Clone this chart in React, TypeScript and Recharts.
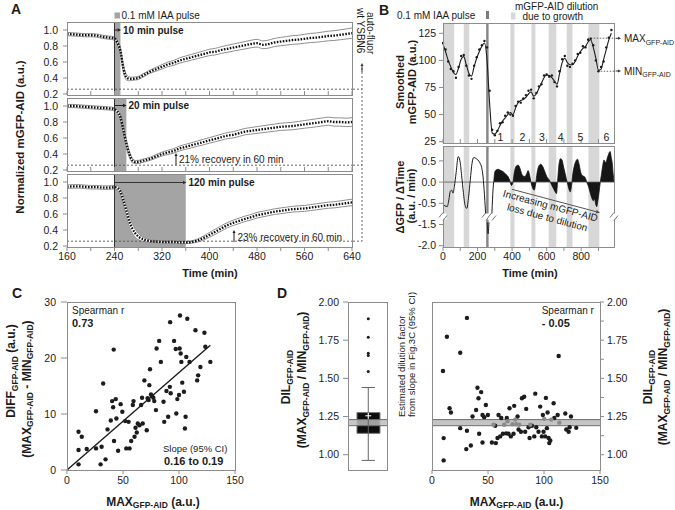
import React from "react";
import {
  ComposedChart,
  Line,
  Area,
  Scatter,
  XAxis,
  YAxis,
  ReferenceArea,
  ReferenceLine,
} from "recharts";

const FONT = "'Liberation Sans', Arial, Helvetica, sans-serif";
const INK = "#1c1c1c";
const FRAME = "#8c8c8c";
const PULSE = "#a4a4a4";
const BAND = "#d7d7d7";
const PAD = 14;

// ---------- Panel A: normalized mGFP-AID after IAA pulses ----------
const aTime = [160, 170, 180, 190, 200, 210, 220, 230, 240, 245, 250, 255, 260, 265, 270, 275, 280, 285, 290, 295, 300, 310, 320, 330, 340, 350, 360, 370, 380, 390, 400, 410, 420, 430, 440, 450, 460, 470, 480, 490, 500, 510, 520, 530, 540, 550, 560, 570, 580, 590, 600, 610, 620, 630, 640];

const pulse10Mean = [0.95, 0.945, 0.94, 0.935, 0.935, 0.93, 0.915, 0.905, 0.895,
  0.84, 0.74, 0.52, 0.41, 0.39, 0.39, 0.395, 0.40, 0.42, 0.44, 0.46, 0.48,
  0.51, 0.54, 0.57, 0.59, 0.62, 0.64, 0.66, 0.68, 0.70, 0.72, 0.73, 0.75, 0.765, 0.78, 0.795, 0.81, 0.825, 0.835, 0.815, 0.825, 0.845, 0.855, 0.865, 0.875, 0.88, 0.89, 0.90, 0.905, 0.915, 0.925, 0.93, 0.94, 0.95, 0.96];
const pulse10Spread = [0.02, 0.02, 0.02, 0.02, 0.02, 0.02, 0.02, 0.02, 0.02,
  0.025, 0.04, 0.05, 0.035, 0.025, 0.02, 0.02, 0.02, 0.02, 0.02, 0.02, 0.02,
  0.025, 0.027, 0.029, 0.031, 0.033, 0.035, 0.036, 0.037, 0.038, 0.04, 0.041, 0.042, 0.043, 0.044, 0.045, 0.046, 0.047, 0.048, 0.049, 0.05, 0.051, 0.052, 0.053, 0.054, 0.055, 0.056, 0.057, 0.058, 0.059, 0.06, 0.061, 0.062, 0.063, 0.065];

const pulse20Mean = [1.0, 1.0, 0.995, 0.99, 0.985, 0.98, 0.975, 0.97, 0.96,
  0.93, 0.86, 0.70, 0.53, 0.40, 0.32, 0.30, 0.30, 0.31, 0.32, 0.33, 0.34,
  0.37, 0.40, 0.42, 0.44, 0.47, 0.49, 0.51, 0.53, 0.55, 0.57, 0.59, 0.61, 0.63, 0.64, 0.66, 0.68, 0.69, 0.70, 0.71, 0.72, 0.73, 0.74, 0.745, 0.75, 0.76, 0.77, 0.78, 0.79, 0.80, 0.81, 0.80, 0.80, 0.795, 0.80];
const pulse20Spread = [0.02, 0.02, 0.02, 0.02, 0.02, 0.02, 0.02, 0.02, 0.02,
  0.025, 0.035, 0.05, 0.05, 0.04, 0.03, 0.02, 0.02, 0.02, 0.02, 0.02, 0.02,
  0.022, 0.024, 0.026, 0.028, 0.03, 0.031, 0.032, 0.033, 0.034, 0.035, 0.036, 0.037, 0.038, 0.039, 0.04, 0.04, 0.041, 0.042, 0.043, 0.044, 0.045, 0.045, 0.046, 0.047, 0.047, 0.048, 0.049, 0.05, 0.05, 0.051, 0.052, 0.052, 0.053, 0.054];

const pulse120Mean = [0.94, 0.945, 0.945, 0.94, 0.935, 0.935, 0.93, 0.93, 0.935,
  0.925, 0.88, 0.77, 0.64, 0.51, 0.42, 0.36, 0.32, 0.295, 0.28, 0.27, 0.26,
  0.255, 0.25, 0.25, 0.25, 0.245, 0.245, 0.25, 0.27, 0.30, 0.34, 0.38, 0.42, 0.46, 0.49, 0.515, 0.54, 0.56, 0.585, 0.60, 0.615, 0.63, 0.64, 0.65, 0.66, 0.665, 0.67, 0.68, 0.69, 0.70, 0.71, 0.715, 0.725, 0.735, 0.745];
const pulse120Spread = [0.022, 0.022, 0.022, 0.022, 0.022, 0.022, 0.022, 0.022, 0.022,
  0.025, 0.04, 0.06, 0.07, 0.07, 0.06, 0.05, 0.04, 0.03, 0.025, 0.02, 0.018,
  0.015, 0.015, 0.015, 0.015, 0.015, 0.015, 0.015, 0.02, 0.025, 0.03, 0.032, 0.033, 0.033, 0.033, 0.034, 0.034, 0.034, 0.035, 0.035, 0.035, 0.035, 0.036, 0.036, 0.036, 0.037, 0.037, 0.037, 0.038, 0.038, 0.038, 0.039, 0.039, 0.04, 0.04];

const pulseStart = 240;
const pulseEnds = [250, 260, 360];
const autoFluor = 0.26;
const aYTicks = [0.2, 0.4, 0.6, 0.8, 1.0];
const aXTicks = [160, 200, 240, 280, 320, 360, 400, 440, 480, 520, 560, 600, 640];

// ---------- Panel B: smoothed trace and its derivative ----------
const bTime = [0, 15, 30, 45, 60, 75, 90, 105, 120, 135, 150, 165, 180, 195, 210, 225, 240, 255, 270, 285, 300, 315, 330, 345, 360, 375, 390, 405, 420, 435, 450, 465, 480, 495, 510, 525, 540, 555, 570, 585, 600, 615, 630, 645, 660, 675, 690, 705, 720, 735, 750, 765, 780, 795, 810, 825, 840, 855, 870, 885, 900, 915, 930, 945, 960, 975];
const bSmooth = [115, 108, 100, 94, 89, 87, 93, 101, 103.5, 96, 88, 85.5, 94, 102, 108, 113, 116, 100, 60, 33, 32, 35, 40, 44, 47, 50, 52, 50, 56, 61, 63, 64, 66, 69, 71, 67, 69, 74, 79, 84, 86.5, 86, 84, 81, 78, 88, 98, 102, 98, 96, 96, 99, 104, 108, 111, 113, 117, 119, 112, 102, 91, 92, 101, 110, 119, 125];
const bRaw = [116, 110, 99, 92, 90, 84, 94, 104, 105, 95, 86, 83, 95, 103, 110, 114, 118, 112, 72, 36, 31, 35, 42, 43, 49, 52, 50, 49, 58, 62, 61, 65, 68, 72, 73, 65, 70, 76, 78, 86, 87, 85, 86, 80, 76, 90, 101, 104, 95, 94, 97, 100, 106, 107, 113, 112, 119, 120, 114, 100, 90, 94, 99, 112, 121, 128];

const growthBands = [[0, 65], [120, 152], [390, 414], [512, 535], [612, 656], [716, 750], [842, 905]];
const iaaPulseB = [250, 264];
const cycleLabels = ["1", "2", "3", "4", "5", "6"];
const cycleTimes = [332, 460, 572, 681, 795, 946];
const maxLevel = 120.5;
const minLevel = 90;

const derivEarlyT = [0, 12, 24, 34, 42, 50, 58, 66, 76, 88, 98, 108, 118, 128, 138, 148, 158, 168, 178, 190, 202, 214, 224, 232, 240, 248, 252, 256, 261, 266, 274, 282, 288, 293];
const derivEarlyV = [-0.54, -0.56, -0.58, -0.42, -0.22, -0.19, -0.26, -0.1, 0.22, 0.6, 0.5, 0.15, -0.25, -0.55, -0.62, -0.35, 0.05, 0.44, 0.58, 0.56, 0.52, 0.45, 0.34, 0.12, -0.3, -0.85, null, -1.45, -1.72, -1.45, null, -0.85, -0.3, 0.0];
const derivLateT = [294, 300, 310, 320, 335, 350, 365, 378, 388, 396, 404, 414, 425, 435, 445, 455, 465, 475, 485, 493, 502, 512, 520, 528, 536, 545, 555, 566, 578, 590, 602, 615, 627, 638, 648, 657, 664, 671, 680, 688, 697, 706, 714, 722, 730, 737, 745, 752, 760, 768, 778, 788, 798, 808, 818, 826, 834, 842, 850, 860, 870, 878, 884, 890, 896, 903, 910, 918, 926, 932, 938, 944, 950, 957, 963, 968, 974, 980, 985, 990];
const derivLateV = [0.0, 0.24, 0.29, 0.3, 0.27, 0.24, 0.18, 0.12, 0.02, -0.08, -0.02, 0.25, 0.38, 0.4, 0.33, 0.2, 0.14, 0.13, 0.2, 0.27, 0.15, -0.05, -0.15, -0.19, -0.05, 0.22, 0.38, 0.42, 0.36, 0.24, 0.12, 0.05, -0.05, -0.14, -0.22, -0.27, 0.05, 0.4, 0.55, 0.53, 0.38, 0.22, 0.08, -0.05, -0.18, -0.23, -0.05, 0.2, 0.38, 0.48, 0.54, 0.42, 0.22, 0.15, 0.13, 0.08, -0.02, -0.1, -0.22, -0.36, -0.44, -0.4, -0.52, -0.58, -0.45, -0.25, -0.02, 0.2, 0.42, 0.52, 0.48, 0.46, 0.55, 0.64, 0.7, 0.72, 0.58, 0.44, 0.2, 0.02];
const derivTicks = [0.5, 0, -0.5, -1, -1.5];
const bXTicks = [0, 100, 200, 300, 400, 500, 600, 700, 800, 900];

// ---------- Panel C: DIFF vs MAX ----------
const cMax = [10.3, 13.2, 10.3, 10.3, 17.6, 25.9, 25.9, 30.9, 30.0, 34.4, 32.3, 36.2, 39.1, 40.3, 41.2, 42.0, 43.5, 41.7, 44.1, 45.6, 47.9, 49.4, 52.0, 52.9, 55.0, 55.9, 57.3, 58.8, 59.4, 60.3, 61.2, 62.3, 63.2, 64.7, 66.2, 67.0, 67.6, 69.1, 71.2, 72.0, 72.9, 73.5, 74.1, 75.0, 75.9, 77.1, 77.9, 79.4, 80.0, 82.3, 83.8, 86.2, 86.8, 88.8, 90.3, 91.8, 92.1, 92.6, 95.6, 97.1, 97.6, 98.5, 100.0, 100.6, 100.9, 101.5, 102.1, 102.9, 104.4, 105.3, 105.9, 107.4, 106.5, 109.4, 114.7, 116.2, 117.1, 119.1, 122.7, 123.5, 128.0];
const cDiff = [6.83, 5.94, 3.57, 1.01, 3.74, 3.86, 10.5, 4.16, 1.01, 1.9, 15.45, 7.25, 8.85, 12.3, 11.2, 5.17, 12.66, 21.5, 9.2, 3.45, 11.76, 10.4, 8.73, 3.86, 8.6, 3.86, 5.17, 11.6, 12.3, 5.94, 7.55, 6.7, 8.3, 8.0, 11.6, 12.9, 8.3, 16.0, 7.1, 12.8, 12.5, 15.15, 18.0, 13.5, 13.2, 12.9, 12.3, 10.7, 21.7, 23.05, 19.3, 12.2, 8.6, 14.1, 9.5, 14.85, 26.4, 13.7, 23.05, 21.6, 10.1, 12.66, 13.4, 21.7, 27.6, 20.8, 19.3, 15.6, 13.96, 7.4, 9.5, 27.0, 20.2, 19.3, 24.95, 16.0, 16.9, 18.4, 24.5, 22.0, 19.3];
const fitSlope = 0.174;
const fitRange = [0, 128];

// ---------- Panel D: DIL vs MAX ----------
const dMax = [9.8, 10.4, 10.4, 13.3, 15.7, 16.9, 25.2, 25.2, 31.2, 31.2, 30.6, 34.7, 36.2, 39.4, 40.6, 41.5, 42.1, 43.9, 45.1, 45.1, 46.6, 48.1, 49.9, 53.5, 54.9, 56.4, 57.0, 58.5, 59.4, 60.9, 61.8, 63.3, 64.5, 66.2, 66.8, 67.4, 68.3, 69.2, 70.4, 71.9, 72.8, 73.4, 74.3, 75.2, 76.4, 77.3, 77.9, 79.4, 80.3, 82.3, 83.2, 84.1, 86.2, 87.1, 87.7, 89.2, 91.3, 92.2, 93.1, 95.1, 96.6, 98.1, 99.0, 99.6, 100.2, 101.1, 101.7, 102.6, 103.2, 104.1, 104.7, 105.6, 106.5, 108.6, 109.2, 112.2, 113.1, 113.7, 119.0, 119.9, 122.0, 122.9, 124.1, 128.8];
const dDil = [1.548, 1.109, 0.963, 1.772, 1.304, 1.276, 1.668, 1.174, 1.896, 1.157, 1.037, 1.06, 1.25, 1.293, 1.439, 1.37, 1.137, 1.41, 1.26, 1.08, 1.246, 1.326, 1.26, 1.08, 1.196, 1.19, 1.076, 1.11, 1.26, 1.12, 1.24, 1.137, 1.196, 1.14, 1.24, 1.22, 1.137, 1.304, 1.12, 1.2, 1.137, 1.32, 1.23, 1.2, 1.25, 1.165, 1.196, 1.15, 1.37, 1.38, 1.15, 1.3, 1.18, 1.11, 1.196, 1.19, 1.12, 1.4, 1.18, 1.15, 1.315, 1.12, 1.26, 1.15, 1.235, 1.12, 1.372, 1.174, 1.276, 1.11, 1.076, 1.093, 1.23, 1.337, 1.24, 1.26, 1.646, 1.21, 1.27, 1.165, 1.15, 1.18, 1.25, 1.176];
const boxWhiskers = [0.963, 1.44];
const boxQuartiles = [1.14, 1.276];
const boxMean = 1.255;
const boxOutliers = [1.545, 1.65, 1.665, 1.77, 1.89];
const dilBand = [1.19, 1.23];
const dilTicks = [1.0, 1.25, 1.5, 1.75, 2.0];
const dilMinor = [1.0, 1.125, 1.25, 1.375, 1.5, 1.625, 1.75, 1.875, 2.0];

type Box = { x0: number; y0: number; x1: number; y1: number };

function dims(b: Box, left = 0, right = 0, bottom = 0) {
  return {
    style: { position: "absolute" as const, left: b.x0 - PAD - left, top: b.y0 - PAD },
    width: b.x1 - b.x0 + 2 * PAD + left + right,
    height: b.y1 - b.y0 + 2 * PAD + bottom,
    margin: { top: PAD, right: PAD, bottom: PAD, left: PAD },
  };
}

function Frame({ b }: { b: Box }) {
  return (
    <div
      style={{
        position: "absolute",
        left: b.x0,
        top: b.y0,
        width: b.x1 - b.x0 + 1,
        height: b.y1 - b.y0 + 1,
        border: `1px solid ${FRAME}`,
        boxSizing: "border-box",
        pointerEvents: "none",
      }}
    />
  );
}

const tickFont = { fontSize: 10.5, fill: INK, fontFamily: FONT };
const blank = () => "";

const aBoxes: Box[] = [
  { x0: 67, y0: 22, x1: 352, y1: 95 },
  { x0: 67, y0: 98, x1: 352, y1: 171 },
  { x0: 67, y0: 174, x1: 352, y1: 247 },
];

function PulseTrace({ box, mean, spread, pulseEnd, last }: { box: Box; mean: number[]; spread: number[]; pulseEnd: number; last: boolean }) {
  const data = aTime.map((t, i) => ({ t, m: mean[i], env: [mean[i] - spread[i], mean[i] + spread[i]] }));
  const xh = last ? 26 : 1;
  const d = dims(box, 44, 0, xh);
  return (
    <div style={d.style}>
      <ComposedChart width={d.width} height={d.height} margin={d.margin} data={data}>
        <XAxis
          dataKey="t"
          type="number"
          domain={[160, 640]}
          ticks={aXTicks}
          height={xh}
          axisLine={false}
          tickLine={{ stroke: FRAME }}
          tickSize={last ? 4 : -4}
          tickMargin={2}
          tick={tickFont}
          tickFormatter={last ? (v: number) => (v % 80 === 0 ? String(v) : "") : blank}
          interval={0}
        />
        <YAxis
          type="number"
          domain={[0.1875, 1.1]}
          ticks={aYTicks}
          interval={0}
          width={44}
          axisLine={false}
          tickLine={{ stroke: FRAME }}
          tickSize={4}
          tickMargin={5}
          tick={tickFont}
          tickFormatter={(v: number) => v.toFixed(1)}
          allowDataOverflow
        />
        <ReferenceArea x1={pulseStart} x2={pulseEnd} fill={PULSE} fillOpacity={1} stroke="none" />
        <ReferenceLine y={autoFluor} stroke="#555" strokeDasharray="2 2" strokeWidth={0.9} />
        <Area
          dataKey="env"
          type="monotone"
          stroke="#8f8f8f"
          strokeWidth={1}
          fill="#ffffff"
          fillOpacity={1}
          isAnimationActive={false}
        />
        <Line
          dataKey="m"
          type="monotone"
          stroke="#111"
          strokeWidth={2.3}
          strokeDasharray="1.6 1.4"
          dot={false}
          isAnimationActive={false}
        />
        <ReferenceLine x={pulseStart} stroke="#333" strokeWidth={1} />
      </ComposedChart>
    </div>
  );
}

function PanelA() {
  const means = [pulse10Mean, pulse20Mean, pulse120Mean];
  const spreads = [pulse10Spread, pulse20Spread, pulse120Spread];
  return (
    <>
      {aBoxes.map((b, i) => (
        <PulseTrace key={i} box={b} mean={means[i]} spread={spreads[i]} pulseEnd={pulseEnds[i]} last={i === 2} />
      ))}
      {aBoxes.map((b, i) => (
        <Frame key={"f" + i} b={b} />
      ))}
    </>
  );
}

const bTopBox: Box = { x0: 443, y0: 23, x1: 614, y1: 143 };
const bBotBox: Box = { x0: 443, y0: 146, x1: 614, y1: 247 };

const brk = (v: number | null) => (v == null ? null : v < -1 ? v + 0.5 : v);

function PanelB() {
  const topData = bTime.map((t, i) => ({ t, smooth: bSmooth[i], raw: bRaw[i] }));
  const derivData = [
    ...derivEarlyT.map((t, i) => ({ t, line: brk(derivEarlyV[i]) })),
    ...derivLateT.map((t, i) => ({ t, fill: brk(derivLateV[i]) })),
  ].sort((a, b) => a.t - b.t);
  const dt = dims(bTopBox, 32, 0, 1);
  const db = dims(bBotBox, 32, 0, 26);
  const bandEls = (prefix: string) => [
    ...growthBands.map(([a, b], i) => (
      <ReferenceArea key={prefix + i} x1={a} x2={b} fill={BAND} fillOpacity={1} stroke="none" />
    )),
    <ReferenceArea key={prefix + "p"} x1={iaaPulseB[0]} x2={iaaPulseB[1]} fill="#858585" fillOpacity={1} stroke="none" />,
  ];
  return (
    <>
      <div style={dt.style}>
        <ComposedChart width={dt.width} height={dt.height} margin={dt.margin} data={topData}>
          <XAxis
            dataKey="t"
            type="number"
            domain={[0, 990]}
            ticks={bXTicks}
            height={1}
            axisLine={false}
            tickLine={{ stroke: FRAME }}
            tickSize={-4}
            tickFormatter={blank}
            interval={0}
          />
          <YAxis
            type="number"
            domain={[23.8, 134.5]}
            ticks={[25, 50, 75, 100, 125]}
            interval={0}
            width={32}
            axisLine={false}
            tickLine={{ stroke: FRAME }}
            tickSize={4}
            tickMargin={3}
            tick={tickFont}
            allowDataOverflow
          />
          {bandEls("t")}
          <ReferenceLine segment={[{ x: 838, y: maxLevel }, { x: 990, y: maxLevel }]} stroke="#666" strokeDasharray="1.5 1.5" />
          <ReferenceLine segment={[{ x: 913, y: minLevel }, { x: 990, y: minLevel }]} stroke="#666" strokeDasharray="1.5 1.5" />
          <Line dataKey="smooth" type="monotone" stroke={INK} strokeWidth={1.1} dot={false} isAnimationActive={false} />
          <Line
            dataKey="raw"
            stroke="none"
            dot={{ r: 1.2, fill: INK, stroke: "none" }}
            isAnimationActive={false}
          />
        </ComposedChart>
      </div>
      <div style={db.style}>
        <ComposedChart width={db.width} height={db.height} margin={db.margin} data={derivData}>
          <XAxis
            dataKey="t"
            type="number"
            domain={[0, 990]}
            ticks={bXTicks}
            height={26}
            axisLine={false}
            tickLine={{ stroke: FRAME }}
            tickSize={4}
            tickMargin={2}
            tick={tickFont}
            tickFormatter={(v: number) => (v % 200 === 0 ? String(v) : "")}
            interval={0}
          />
          <YAxis
            type="number"
            domain={[-1.53, 0.85]}
            ticks={derivTicks}
            interval={0}
            width={32}
            axisLine={false}
            tickLine={{ stroke: FRAME }}
            tickSize={4}
            tickMargin={3}
            tick={tickFont}
            tickFormatter={(v: number) => (v === -1 ? "-1.5" : v === -1.5 ? "-2.0" : v.toFixed(1))}
            allowDataOverflow
          />
          {bandEls("b")}
          <ReferenceLine y={0} stroke="#555" strokeWidth={0.8} />
          <Area
            dataKey="fill"
            type="monotone"
            baseValue={0}
            stroke="#161616"
            strokeWidth={0.8}
            fill="#161616"
            fillOpacity={1}
            isAnimationActive={false}
          />
          <Line dataKey="line" type="monotone" stroke={INK} strokeWidth={1} dot={false} isAnimationActive={false} />
        </ComposedChart>
      </div>
      <Frame b={bTopBox} />
      <Frame b={bBotBox} />
    </>
  );
}

const cBox: Box = { x0: 67, y0: 302, x1: 235, y1: 470 };

const dot = (r: number, fill: string) => (p: any) => <circle cx={p.cx} cy={p.cy} r={r} fill={fill} />;

function PanelC() {
  const pts = cMax.map((x, i) => ({ x, y: cDiff[i] }));
  const d = dims(cBox, 34, 0, 28);
  return (
    <>
      <div style={d.style}>
        <ComposedChart width={d.width} height={d.height} margin={d.margin}>
          <XAxis
            dataKey="x"
            type="number"
            domain={[0, 150]}
            ticks={[0, 50, 100, 150]}
            interval={0}
            height={28}
            axisLine={false}
            tickLine={{ stroke: FRAME }}
            tickSize={4}
            tickMargin={3}
            tick={tickFont}
          />
          <YAxis
            dataKey="y"
            type="number"
            domain={[0, 30]}
            ticks={[0, 10, 20, 30]}
            interval={0}
            width={34}
            axisLine={false}
            tickLine={{ stroke: FRAME }}
            tickSize={6}
            tickMargin={5}
            tick={tickFont}
          />
          <Scatter data={pts} shape={dot(2.2, INK)} isAnimationActive={false} />
          <ReferenceLine
            segment={[{ x: fitRange[0], y: fitSlope * fitRange[0] }, { x: fitRange[1], y: fitSlope * fitRange[1] }]}
            stroke={INK}
            strokeWidth={1.4}
          />
        </ComposedChart>
      </div>
      <Frame b={cBox} />
    </>
  );
}

const dLeftBox: Box = { x0: 348, y0: 302, x1: 387, y1: 470 };
const dMidBox: Box = { x0: 388, y0: 302, x1: 427, y1: 470 };
const dRightBox: Box = { x0: 432, y0: 302, x1: 600, y1: 470 };

const plus = (p: any) => (
  <g stroke="#fff" strokeWidth={1}>
    <line x1={p.cx - 3} x2={p.cx + 3} y1={p.cy} y2={p.cy} />
    <line x1={p.cx} x2={p.cx} y1={p.cy - 3} y2={p.cy + 3} />
  </g>
);

function PanelD() {
  const dl = dims(dLeftBox, 46, 0, 0);
  const dm = dims(dMidBox, 0, 0, 0);
  const dr = dims(dRightBox, 0, 44, 28);
  const inBand = (v: number) => v >= 1.192 && v <= 1.236;
  const dark = dMax.map((x, i) => ({ x, y: dDil[i] })).filter((p) => !inBand(p.y));
  const light = dMax.map((x, i) => ({ x, y: dDil[i] })).filter((p) => inBand(p.y));
  const cx = 0.52;
  return (
    <>
      <div style={dl.style}>
        <ComposedChart width={dl.width} height={dl.height} margin={dl.margin}>
          <XAxis dataKey="x" type="number" domain={[0, 1]} hide />
          <YAxis
            dataKey="y"
            type="number"
            domain={[0.9, 2.0]}
            ticks={dilTicks}
            interval={0}
            width={46}
            axisLine={false}
            tickLine={{ stroke: FRAME }}
            tickSize={5}
            tickMargin={4}
            tick={tickFont}
            tickFormatter={(v: number) => v.toFixed(2)}
          />
          <ReferenceLine segment={[{ x: cx, y: boxWhiskers[0] }, { x: cx, y: boxWhiskers[1] }]} stroke="#666" />
          <ReferenceLine segment={[{ x: 0.35, y: boxWhiskers[0] }, { x: 0.69, y: boxWhiskers[0] }]} stroke="#666" />
          <ReferenceLine segment={[{ x: 0.35, y: boxWhiskers[1] }, { x: 0.69, y: boxWhiskers[1] }]} stroke="#666" />
          <ReferenceArea x1={0.23} x2={0.82} y1={boxQuartiles[0]} y2={boxQuartiles[1]} fill="#0d0d0d" fillOpacity={1} stroke="#777" />
          <ReferenceArea y1={dilBand[0]} y2={dilBand[1]} fill="#bdbdbd" fillOpacity={0.85} stroke="none" />
          <ReferenceLine y={dilBand[0]} stroke="#6e6e6e" />
          <ReferenceLine y={dilBand[1]} stroke="#6e6e6e" />
          <Scatter data={boxOutliers.map((y) => ({ x: cx, y }))} shape={dot(1.5, INK)} isAnimationActive={false} />
          <Scatter data={[{ x: cx, y: boxMean }]} shape={plus} isAnimationActive={false} />
        </ComposedChart>
      </div>
      <div style={dm.style}>
        <ComposedChart width={dm.width} height={dm.height} margin={dm.margin}>
          <XAxis dataKey="x" type="number" domain={[0, 1]} hide />
          <YAxis dataKey="y" type="number" domain={[0.9, 2.0]} hide />
          <ReferenceArea x1={0} x2={1} y1={dilBand[0]} y2={dilBand[1]} fill="#c4c4c4" fillOpacity={1} stroke="none" />
          <ReferenceLine y={dilBand[0]} stroke="#6e6e6e" />
          <ReferenceLine y={dilBand[1]} stroke="#6e6e6e" />
          <Scatter data={[]} isAnimationActive={false} />
        </ComposedChart>
      </div>
      <div style={dr.style}>
        <ComposedChart width={dr.width} height={dr.height} margin={dr.margin}>
          <XAxis
            dataKey="x"
            type="number"
            domain={[0, 150]}
            ticks={[0, 50, 100, 150]}
            interval={0}
            height={28}
            axisLine={false}
            tickLine={{ stroke: FRAME }}
            tickSize={4}
            tickMargin={3}
            tick={tickFont}
          />
          <YAxis
            dataKey="y"
            type="number"
            orientation="right"
            domain={[0.9, 2.0]}
            ticks={dilMinor}
            interval={0}
            width={44}
            axisLine={false}
            tickLine={{ stroke: FRAME }}
            tickSize={4}
            tickMargin={3}
            tick={tickFont}
            tickFormatter={(v: number) => (Math.abs(v * 4 - Math.round(v * 4)) < 1e-6 ? v.toFixed(2) : "")}
          />
          <ReferenceArea y1={dilBand[0]} y2={dilBand[1]} fill="#c4c4c4" fillOpacity={1} stroke="none" />
          <ReferenceLine y={dilBand[0]} stroke="#6e6e6e" />
          <ReferenceLine y={dilBand[1]} stroke="#6e6e6e" />
          <Scatter data={dark} shape={dot(2.2, INK)} isAnimationActive={false} />
          <Scatter data={light} shape={dot(2.2, "#8a8a8a")} isAnimationActive={false} />
        </ComposedChart>
      </div>
      <Frame b={dLeftBox} />
      <Frame b={dRightBox} />
    </>
  );
}

function Arrow({ x1, y1, x2, y2, head = 4, color = INK, w = 1, dash }: { x1: number; y1: number; x2: number; y2: number; head?: number; color?: string; w?: number; dash?: string }) {
  const a = Math.atan2(y2 - y1, x2 - x1);
  const c = Math.cos(a);
  const s = Math.sin(a);
  const bx = x2 - head * c;
  const by = y2 - head * s;
  const hw = head * 0.5;
  return (
    <g>
      <line x1={x1} y1={y1} x2={bx} y2={by} stroke={color} strokeWidth={w} strokeDasharray={dash} />
      <polygon points={`${x2},${y2} ${bx + hw * s},${by - hw * c} ${bx - hw * s},${by + hw * c}`} fill={color} />
    </g>
  );
}

type Part = [string, boolean];
function SubText({ x, y, parts, size, sub, rotate = 0, anchor = "middle", weight = 700 }: { x: number; y: number; parts: Part[]; size: number; sub: number; rotate?: number; anchor?: string; weight?: number }) {
  const shift = size * 0.32;
  return (
    <text
      transform={`translate(${x},${y}) rotate(${rotate})`}
      textAnchor={anchor}
      dominantBaseline="central"
      fontSize={size}
      fontWeight={weight}
      fill={INK}
    >
      {parts.map(([t, isSub], i) => {
        const prev = i > 0 && parts[i - 1][1];
        const dy = isSub && !prev ? shift : !isSub && prev ? -shift : 0;
        return (
          <tspan key={i} fontSize={isSub ? sub : size} dy={dy || undefined}>
            {t}
          </tspan>
        );
      })}
    </text>
  );
}

function BreakMark({ x, y }: { x: number; y: number }) {
  return (
    <g>
      <rect x={x - 3.5} y={y - 3} width={7} height={6} fill="#fff" />
      <line x1={x - 4} y1={y + 1} x2={x} y2={y - 4} stroke="#777" />
      <line x1={x} y1={y + 4} x2={x + 4} y2={y - 1} stroke="#777" />
    </g>
  );
}

function Overlay() {
  const bx = (t: number) => 443 + (t / 990) * 171;
  const T = (p: any) => <text fill={INK} {...p} />;
  return (
    <svg width={675} height={510} style={{ position: "absolute", left: 0, top: 0, pointerEvents: "none", fontFamily: FONT }}>
      {/* panel letters */}
      <T x={11} y={14} fontSize={14} fontWeight={700}>A</T>
      <T x={379} y={15} fontSize={14} fontWeight={700}>B</T>
      <T x={12} y={298} fontSize={14} fontWeight={700}>C</T>
      <T x={277} y={298} fontSize={14} fontWeight={700}>D</T>

      {/* panel A annotations */}
      <rect x={114.5} y={12.5} width={5.5} height={6} fill={PULSE} />
      <T x={121.5} y={19} fontSize={10}>0.1 mM IAA pulse</T>
      <Arrow x1={114.5} y1={30} x2={121} y2={30} head={3.5} />
      <T x={123} y={33.5} fontSize={10} fontWeight={700}>10 min pulse</T>
      <Arrow x1={114.5} y1={105.5} x2={126.5} y2={105.5} head={3.5} />
      <T x={128.5} y={109} fontSize={10} fontWeight={700}>20 min pulse</T>
      <Arrow x1={114.5} y1={182.5} x2={186.5} y2={182.5} head={3.5} color="#333" />
      <T x={188.5} y={186} fontSize={10} fontWeight={700}>120 min pulse</T>
      <Arrow x1={176} y1={165} x2={176} y2={153} head={3} />
      <T x={179} y={162.5} fontSize={10}>21% recovery in 60 min</T>
      <Arrow x1={234} y1={242} x2={234} y2={230} head={3} />
      <T x={237.5} y={240.5} fontSize={10}>23% recovery in 60 min</T>
      <line x1={353} y1={89.2} x2={362} y2={89.2} stroke="#555" strokeDasharray="2 2" strokeWidth={0.9} />
      <line x1={353} y1={165.2} x2={362} y2={165.2} stroke="#555" strokeDasharray="2 2" strokeWidth={0.9} />
      <line x1={353} y1={241.2} x2={362} y2={241.2} stroke="#555" strokeDasharray="2 2" strokeWidth={0.9} />
      <line x1={362} y1={68} x2={362} y2={241.2} stroke="#555" strokeDasharray="2 2" strokeWidth={0.9} />
      <Arrow x1={362} y1={72} x2={362} y2={63} head={3} color="#333" />
      <T transform="translate(360,8) rotate(90)" fontSize={10} dominantBaseline="central">wt YSBN6</T>
      <T transform="translate(370,12) rotate(90)" fontSize={10} dominantBaseline="central">auto-fluor</T>
      <T transform="translate(20,137) rotate(-90)" fontSize={11.5} fontWeight={700} textAnchor="middle" dominantBaseline="central">Normalized mGFP-AID (a.u.)</T>
      <T x={210} y={277} fontSize={11} fontWeight={700} textAnchor="middle">Time (min)</T>

      {/* panel B annotations */}
      <T x={397} y={19} fontSize={10}>0.1 mM IAA pulse</T>
      <rect x={486} y={11} width={3} height={8} fill="#7a7a7a" />
      <T x={515} y={10} fontSize={10}>mGFP-AID dilution</T>
      <rect x={511} y={12.5} width={4.5} height={7} fill={BAND} />
      <T x={522.5} y={19.5} fontSize={10}>due to growth</T>
      {cycleLabels.map((s, i) => (
        <T key={s} x={bx(cycleTimes[i])} y={140.5} fontSize={10.5} textAnchor="middle">{s}</T>
      ))}
      <line x1={614} y1={38.3} x2={617} y2={38.3} stroke="#666" strokeDasharray="1.5 1.5" />
      <Arrow x1={616} y1={38.3} x2={621} y2={38.3} head={3} color="#333" />
      <SubText x={624} y={38.3} parts={[["MAX", false], ["GFP-AID", true]]} size={10} sub={7} anchor="start" weight={400} />
      <line x1={614} y1={71} x2={617} y2={71} stroke="#666" strokeDasharray="1.5 1.5" />
      <Arrow x1={616} y1={71} x2={621} y2={71} head={3} color="#333" />
      <SubText x={624} y={71} parts={[["MIN", false], ["GFP-AID", true]]} size={10} sub={7} anchor="start" weight={400} />
      <BreakMark x={443} y={216.5} />
      <BreakMark x={614} y={216.5} />
      <BreakMark x={486} y={216.5} />
      <BreakMark x={492} y={216.5} />
      <Arrow x1={512} y1={189.3} x2={600} y2={212.7} head={4} color="#555" />
      <g transform="translate(550.5,205.7) rotate(15)">
        <T x={0} y={0} fontSize={10} textAnchor="middle" dominantBaseline="central">Increasing mGFP-AID</T>
        <T x={0} y={12} fontSize={10} textAnchor="middle" dominantBaseline="central">loss due to dilution</T>
      </g>
      <T transform="translate(400,82) rotate(-90)" fontSize={11} fontWeight={700} textAnchor="middle" dominantBaseline="central">Smoothed</T>
      <T transform="translate(412,82) rotate(-90)" fontSize={11} fontWeight={700} textAnchor="middle" dominantBaseline="central">mGFP-AID (a.u.)</T>
      <T transform="translate(400,197) rotate(-90)" fontSize={11} fontWeight={700} textAnchor="middle" dominantBaseline="central">ΔGFP / ΔTime</T>
      <T transform="translate(411,196) rotate(-90)" fontSize={11} fontWeight={700} textAnchor="middle" dominantBaseline="central">(a.u. / min)</T>
      <T x={530} y={277} fontSize={11} fontWeight={700} textAnchor="middle">Time (min)</T>

      {/* panel C annotations */}
      <T x={72} y={313.5} fontSize={10}>Spearman r</T>
      <T x={72} y={327} fontSize={11} fontWeight={700}>0.73</T>
      <T x={163} y={451.5} fontSize={9.5}>Slope (95% CI)</T>
      <T x={164} y={465} fontSize={11} fontWeight={700}>0.16 to 0.19</T>
      <SubText x={11} y={371} rotate={-90} parts={[["DIFF", false], ["GFP-AID", true], [" (a.u.)", false]]} size={12} sub={8.5} />
      <SubText x={26.5} y={389} rotate={-90} parts={[["(MAX", false], ["GFP-AID", true], [" - MIN", false], ["GFP-AID", true], [")", false]]} size={12} sub={8.5} />
      <SubText x={153} y={501.5} parts={[["MAX", false], ["GFP-AID", true], ["  (a.u.)", false]]} size={12} sub={8.5} />

      {/* panel D annotations */}
      <T transform="translate(401.7,417) rotate(-90)" fontSize={9.5} dominantBaseline="central">Estimated dilution factor</T>
      <T transform="translate(411.7,417) rotate(-90)" fontSize={9.5} dominantBaseline="central">from slope in Fig.3C  (95% CI)</T>
      <T x={541.7} y={313.5} fontSize={10}>Spearman r</T>
      <T x={541.7} y={327} fontSize={11} fontWeight={700}>- 0.05</T>
      <SubText x={285.7} y={377} rotate={-90} parts={[["DIL", false], ["GFP-AID", true]]} size={12} sub={8.5} />
      <SubText x={301.7} y={380} rotate={-90} parts={[["(MAX", false], ["GFP-AID", true], [" / MIN", false], ["GFP-AID", true], [")", false]]} size={12} sub={8.5} />
      <SubText x={648.3} y={377} rotate={-90} parts={[["DIL", false], ["GFP-AID", true]]} size={12} sub={8.5} />
      <SubText x={663.3} y={377} rotate={-90} parts={[["(MAX", false], ["GFP-AID", true], [" / MIN", false], ["GFP-AID", true], [")", false]]} size={12} sub={8.5} />
      <SubText x={516.5} y={501.5} parts={[["MAX", false], ["GFP-AID", true], ["  (a.u.)", false]]} size={12} sub={8.5} />
    </svg>
  );
}

export default function App() {
  return (
    <div
      style={{
        position: "absolute",
        left: 0,
        top: 0,
        width: 675,
        height: 510,
        background: "#fff",
        fontFamily: FONT,
        overflow: "hidden",
      }}
    >
      <PanelA />
      <PanelB />
      <PanelC />
      <PanelD />
      <Overlay />
    </div>
  );
}
